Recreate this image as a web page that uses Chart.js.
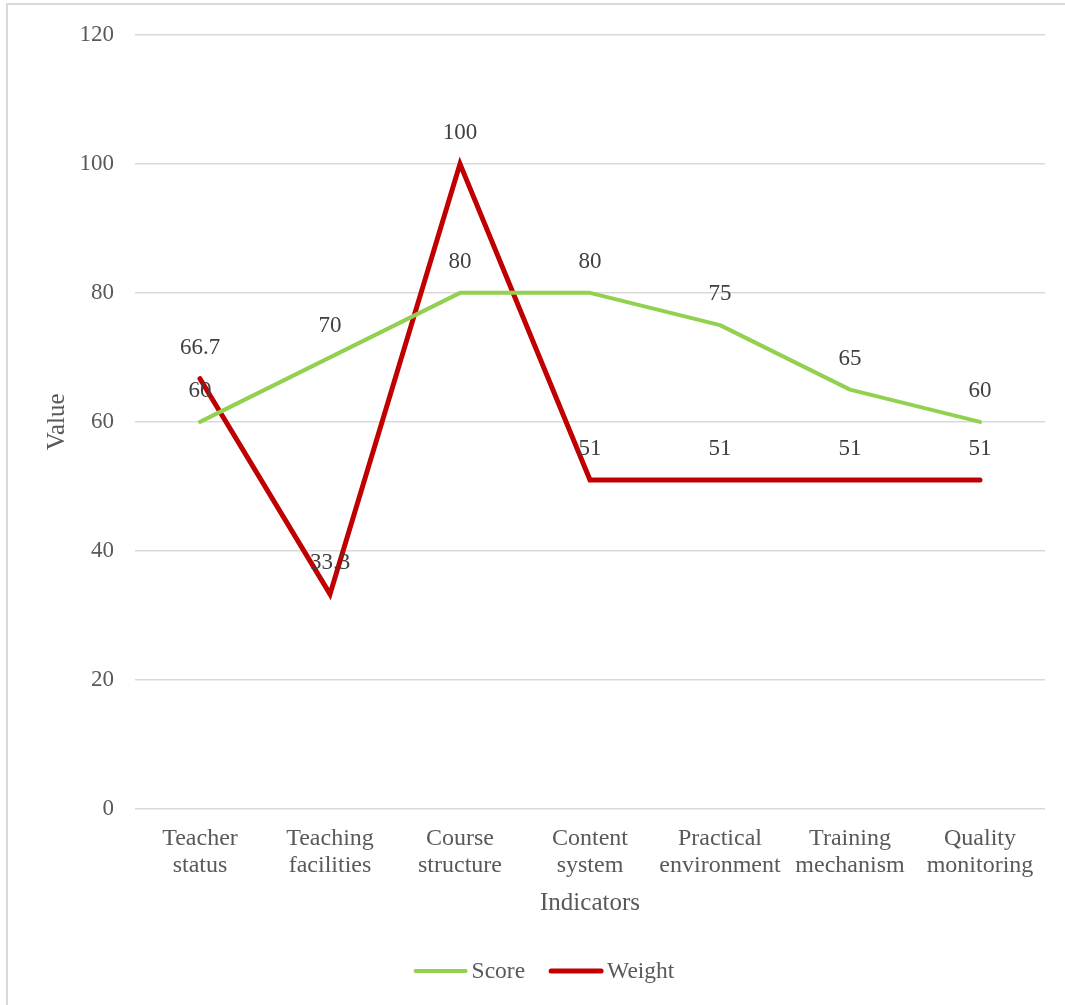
<!DOCTYPE html>
<html><head><meta charset="utf-8">
<script src="https://cdn.jsdelivr.net/npm/chart.js@4/dist/chart.umd.min.js"></script>
<style>
html,body{margin:0;padding:0;background:#fff;}
#wrap{position:absolute;left:0;top:0;width:1065px;height:1005px;}
#frame{position:absolute;left:6px;top:3px;width:1070px;height:1010px;border:2px solid #d9d9d9;box-sizing:border-box;}
canvas{position:absolute;left:0;top:0;}
</style></head>
<body>
<div id="wrap"><div id="frame"></div><canvas id="c" width="1065" height="1005"></canvas></div>
<script>
const categories = [["Teacher","status"],["Teaching","facilities"],["Course","structure"],["Content","system"],["Practical","environment"],["Training","mechanism"],["Quality","monitoring"]];
const scoreValues = [60, 70, 80, 80, 75, 65, 60];
const weightValues = [66.7, 33.3, 100, 51, 51, 51, 51];
const yTicks = [0, 20, 40, 60, 80, 100, 120];

const FONT = "'Liberation Serif', 'Times New Roman', serif";

const labelPlugin = {
  id: 'dl',
  afterDatasetsDraw(chart) {
    const ctx = chart.ctx;
    ctx.save();
    ctx.font = "23px " + FONT;
    ctx.fillStyle = '#404040';
    ctx.textAlign = 'center';
    ctx.textBaseline = 'middle';
    chart.data.datasets.forEach((ds, i) => {
      const meta = chart.getDatasetMeta(i);
      meta.data.forEach((pt, j) => {
        ctx.fillText(String(ds.data[j]), pt.x, pt.y - 31);
      });
    });
    ctx.restore();
  }
};

const legendPlugin = {
  id: 'customLegend',
  afterDraw(chart) {
    const ctx = chart.ctx;
    ctx.save();
    ctx.font = "23.5px " + FONT;
    ctx.textBaseline = 'middle';
    ctx.textAlign = 'left';
    const lineW = 54, gapText = 4, gapItem = 24, y = 971;
    const items = chart.data.datasets.map(d => ({text: d.label, color: d.borderColor, w: d.borderWidth, tw: ctx.measureText(d.label).width}));
    let total = 0;
    items.forEach((it, i) => { total += lineW + gapText + it.tw + (i ? gapItem : 0); });
    let x = 544 - total / 2;
    items.forEach((it, i) => {
      if (i) x += gapItem;
      ctx.strokeStyle = it.color;
      ctx.lineWidth = it.w;
      ctx.lineCap = 'round';
      ctx.beginPath();
      ctx.moveTo(x + 2, y);
      ctx.lineTo(x + lineW - 2, y);
      ctx.stroke();
      x += lineW + gapText;
      ctx.fillStyle = '#595959';
      ctx.fillText(it.text, x, y + 1);
      x += it.tw;
    });
    ctx.restore();
  }
};

new Chart(document.getElementById('c'), {
  type: 'line',
  data: {
    labels: categories,
    datasets: [
      {label: 'Score', data: scoreValues, borderColor: '#92D050', backgroundColor: '#92D050', borderWidth: 4, pointRadius: 0, tension: 0, borderCapStyle: 'round', borderJoinStyle: 'round'},
      {label: 'Weight', data: weightValues, borderColor: '#C00000', backgroundColor: '#C00000', borderWidth: 5, pointRadius: 0, tension: 0, borderCapStyle: 'round', borderJoinStyle: 'miter'}
    ]
  },
  options: {
    responsive: false,
    animation: false,
    layout: {padding: {left: 8, right: 20, top: 33, bottom: 68}},
    plugins: {
      legend: {display: false},
      tooltip: {enabled: false}
    },
    scales: {
      x: {
        offset: true,
        grid: {display: false, drawTicks: false},
        border: {display: false},
        ticks: {font: {family: FONT, size: 24, lineHeight: 1.13}, color: '#595959', maxRotation: 0, autoSkip: false, padding: 16},
        title: {display: true, text: 'Indicators', font: {family: FONT, size: 25}, color: '#595959', padding: {top: 2, bottom: 19}},
        afterFit(s) { s.height = 128; }
      },
      y: {
        min: 0, max: 120,
        afterBuildTicks(s) { s.ticks = yTicks.map(v => ({value: v})); },
        grid: {color: '#d9d9d9', lineWidth: 1.5, drawTicks: false},
        border: {display: false},
        ticks: {font: {family: FONT, size: 23}, color: '#595959', padding: 21},
        title: {display: true, text: 'Value', font: {family: FONT, size: 25}, color: '#595959', padding: {top: 34, bottom: 0}},
        afterFit(s) { s.width = 127; }
      }
    }
  },
  plugins: [labelPlugin, legendPlugin]
});
</script>
</body></html>
